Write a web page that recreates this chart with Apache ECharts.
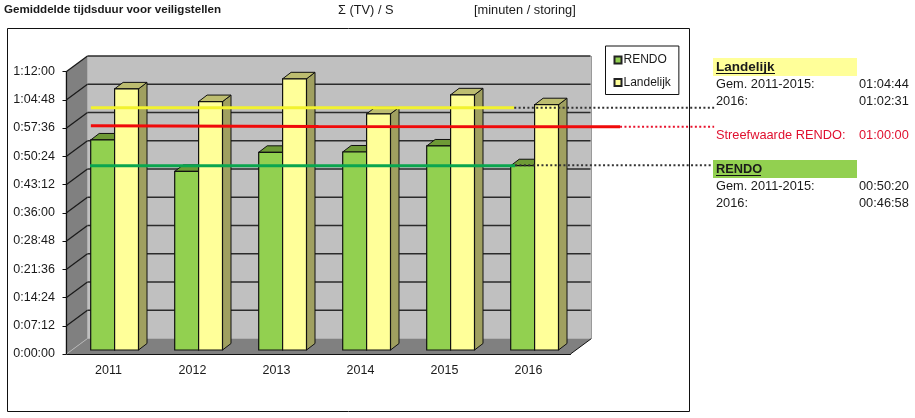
<!DOCTYPE html>
<html><head><meta charset="utf-8">
<style>html,body{margin:0;padding:0;background:#fff}#c{width:915px;height:418px}</style>
<script src="https://cdn.jsdelivr.net/npm/echarts@6/dist/echarts.min.js"></script>
</head><body><div id="c"></div>
<script>
// ---- data (seconds) ----
const years = ['2011','2012','2013','2014','2015','2016'];
const rendo = [3212,2731,3023,3028,3120,2818];
const landelijk = [3993,3799,4147,3611,3902,3751];
const yTickLabels = ['0:00:00','0:07:12','0:14:24','0:21:36','0:28:48','0:36:00','0:43:12','0:50:24','0:57:36','1:04:48','1:12:00'];
const yTickValues = [0,432,864,1296,1728,2160,2592,3024,3456,3888,4320];
// overlay lines: [slot, value]
const yellowLine = [[0.29,3764],[5.33,3764]];
const redLine = [[0.29,3492],[3,3478],[6.59,3477]];
const greenLine = [[0.28,2880],[5.34,2880]];
const yellowLead = [[5.33,3764],[7.71,3764]];
const redLead = [[6.59,3477],[7.71,3477]];
const greenLead = [[5.34,2888],[7.71,2888]];

const DEPTH = {x:21,y:-15.5};           // wall depth
const BAR = {dx:6.1,dy:-4,w:23.9,sx:8.5,sy:-6.5};
const FONT = '"Liberation Sans",Arial,sans-serif';
const TXT='#1a1a1a', RED='#e0102f';

function poly(pts,fill,stroke,lw){
  return {type:'polygon',shape:{points:pts},style:{fill:fill,stroke:stroke||null,lineWidth:lw||0}};
}
function seg(a,b,c,w){return {type:'line',shape:{x1:a[0],y1:a[1],x2:b[0],y2:b[1]},style:{stroke:c,lineWidth:w}};}

function wallItem(params,api){
  const r=params.coordSys, l=r.x, R=r.x+r.width, t=r.y, b=r.y+r.height, d=DEPTH;
  return {type:'group',children:[
    poly([[l+d.x,t+d.y],[R+d.x,t+d.y],[R+d.x,b+d.y],[l+d.x,b+d.y]],'#c0c0c0'),
    poly([[l,t],[l+d.x,t+d.y],[l+d.x,b+d.y],[l,b]],'#808080'),
    poly([[l,b],[l+d.x,b+d.y],[R+d.x,b+d.y],[R,b]],'#808080'),
    seg([l,b],[l+d.x,b+d.y],'#b5b5b5',1),
    seg([R,b],[R+d.x,b+d.y],'#111',1),
    seg([R+d.x,t+d.y],[R+d.x,b+d.y],'#9a9a9a',1),
    seg([l,t],[l,b],'#111',1.2)
  ]};
}
function gridItem(params,api){
  const v=api.value(0);
  const r=params.coordSys, p=api.coord([0,v])[1];
  if(v===0) return;
  const l=r.x,R=r.x+r.width,d=DEPTH;
  return {type:'group',children:[
    seg([l,p],[l+d.x,p+d.y],'#1a1a1a',1.3),
    seg([l+d.x,p+d.y],[R+d.x-1,p+d.y],'#2b2b2b',1.3)
  ]};
}
function barItem(front,top,side){
  return function(params,api){
    const p=api.coord([api.value(0),api.value(1)]), z=api.coord([api.value(0),0]);
    const x0=z[0]+BAR.dx+(api.value(2)-1)*BAR.w, x1=x0+BAR.w, y0=p[1]+BAR.dy, y1=z[1]+BAR.dy, s=BAR;
    return {type:'group',children:[
      poly([[x1,y0],[x1+s.sx,y0+s.sy],[x1+s.sx,y1+s.sy],[x1,y1]],side,'#111',1),
      poly([[x0,y0],[x0+s.sx,y0+s.sy],[x1+s.sx,y0+s.sy],[x1,y0]],top,'#111',1),
      {type:'rect',shape:{x:x0,y:y0,width:s.w,height:y1-y0},style:{fill:front,stroke:'#111',lineWidth:1.2}}
    ]};
  };
}
function guide(data,color,width,dotted,z){
  return {type:'line',xAxisIndex:1,yAxisIndex:1,data:data,clip:false,silent:true,symbol:'none',z:z,animation:false,
    lineStyle:{color:color,width:width,type:dotted?[2,2.4]:'solid',cap:'butt'}};
}
const txt=(t,x,y,o)=>Object.assign({type:'text',x:x,y:y,z:20,style:Object.assign({text:t,fill:TXT,font:'12.8px '+FONT,textVerticalAlign:'middle'},o||{})});
const rect=(x,y,w,h,fill,stroke)=>({type:'rect',z:stroke?0:10,shape:{x:x,y:y,width:w,height:h},style:{fill:fill,stroke:stroke||null,lineWidth:1}});

const chart=echarts.init(document.getElementById('c'),null,{renderer:'canvas'});
chart.setOption({
  animation:false,backgroundColor:'#fff',
  grid:[{left:66.5,top:71.5,width:504,height:282.5},{left:66.5,top:71.5,width:672,height:282.5}],
  legend:{left:605.5,top:46,orient:'vertical',data:['RENDO','Landelijk'],itemWidth:7,itemHeight:7,itemGap:10.5,
    padding:[8,8,6,8],backgroundColor:'#fff',borderColor:'#111',borderWidth:1,borderRadius:0,
    icon:'rect',textStyle:{color:TXT,fontSize:12,fontFamily:FONT,padding:[0,0,0,-3]},selectedMode:false},
  xAxis:[
    {type:'category',data:years,boundaryGap:true,axisLine:{lineStyle:{color:'#111',width:1.2}},
     axisTick:{length:4,alignWithLabel:false,lineStyle:{color:'#111'}},
     axisLabel:{color:TXT,fontSize:12.5,fontFamily:FONT,margin:10},splitLine:{show:false}},
    {type:'value',gridIndex:1,min:0,max:8,show:false,splitLine:{show:false}}
  ],
  yAxis:[{type:'value',min:0,max:4320,interval:432,
    axisLine:{show:true,lineStyle:{color:'#111',width:1.2}},axisTick:{show:true,length:4,lineStyle:{color:'#111'}},
    splitLine:{show:false},
    axisLabel:{color:TXT,fontSize:12.5,fontFamily:FONT,margin:11.5,
      formatter:function(v){return yTickLabels[yTickValues.indexOf(v)];}}},
    {type:'value',gridIndex:1,min:0,max:4320,show:false,splitLine:{show:false}}],
  series:[
    {type:'custom',name:'walls',renderItem:wallItem,data:[[0,0]],clip:false,z:1,silent:true},
    {type:'custom',name:'gridlines',renderItem:gridItem,data:yTickValues.map(v=>[v]),encode:{y:0},clip:false,z:2,silent:true},
    {type:'custom',name:'RENDO',renderItem:barItem('#92d050','#6e9a36','#7a9a40'),clip:false,z:3,
      itemStyle:{color:'#92d050',borderColor:'#222',borderWidth:0.8},
      data:rendo.map((v,i)=>[i,v,0]),encode:{x:0,y:1}},
    {type:'custom',name:'Landelijk',renderItem:barItem('#ffff99','#bdbd70','#a0a060'),clip:false,z:4,
      itemStyle:{color:'#ffff99',borderColor:'#222',borderWidth:0.8},
      data:landelijk.map((v,i)=>[i,v,1]),encode:{x:0,y:1}},
    guide(yellowLine,'#f2f22e',3,false,6),
    guide(redLine,'#f00a0a',3,false,6),
    guide(greenLine,'#0aa64f',3,false,6),
    guide(yellowLead,'#333',2,true,7),
    guide(redLead,'#e8122c',2,true,7),
    guide(greenLead,'#333',2,true,7)
  ],
  graphic:{elements:[
    rect(7.5,28.5,682,383,'rgba(0,0,0,0)','#111'),
    rect(713,58,144,18,'#ffff99'),
    rect(713,160,144,18,'#92d050'),
    txt('Gemiddelde tijdsduur voor veiligstellen',4,9.5,{font:'bold 11.6px '+FONT}),
    txt('\u03a3 (TV) / S',338,10),
    txt('[minuten / storing]',474,10),
    txt('Landelijk',716,67,{font:'bold 13.5px '+FONT}),
    {type:'line',z:20,shape:{x1:716,y1:73.5,x2:775,y2:73.5},style:{stroke:'#111',lineWidth:1}},
    txt('Gem. 2011-2015:',716,84.5),txt('01:04:44',859,84.5),
    txt('2016:',716,101),txt('01:02:31',859,101),
    txt('Streefwaarde RENDO:',716,135,{fill:RED}),txt('01:00:00',859,135,{fill:RED}),
    txt('RENDO',716,169,{font:'bold 12.8px '+FONT}),
    {type:'line',z:20,shape:{x1:716,y1:175.5,x2:761,y2:175.5},style:{stroke:'#111',lineWidth:1}},
    txt('Gem. 2011-2015:',716,186.5),txt('00:50:20',859,186.5),
    txt('2016:',716,203),txt('00:46:58',859,203)
  ]}
});
</script></body></html>
